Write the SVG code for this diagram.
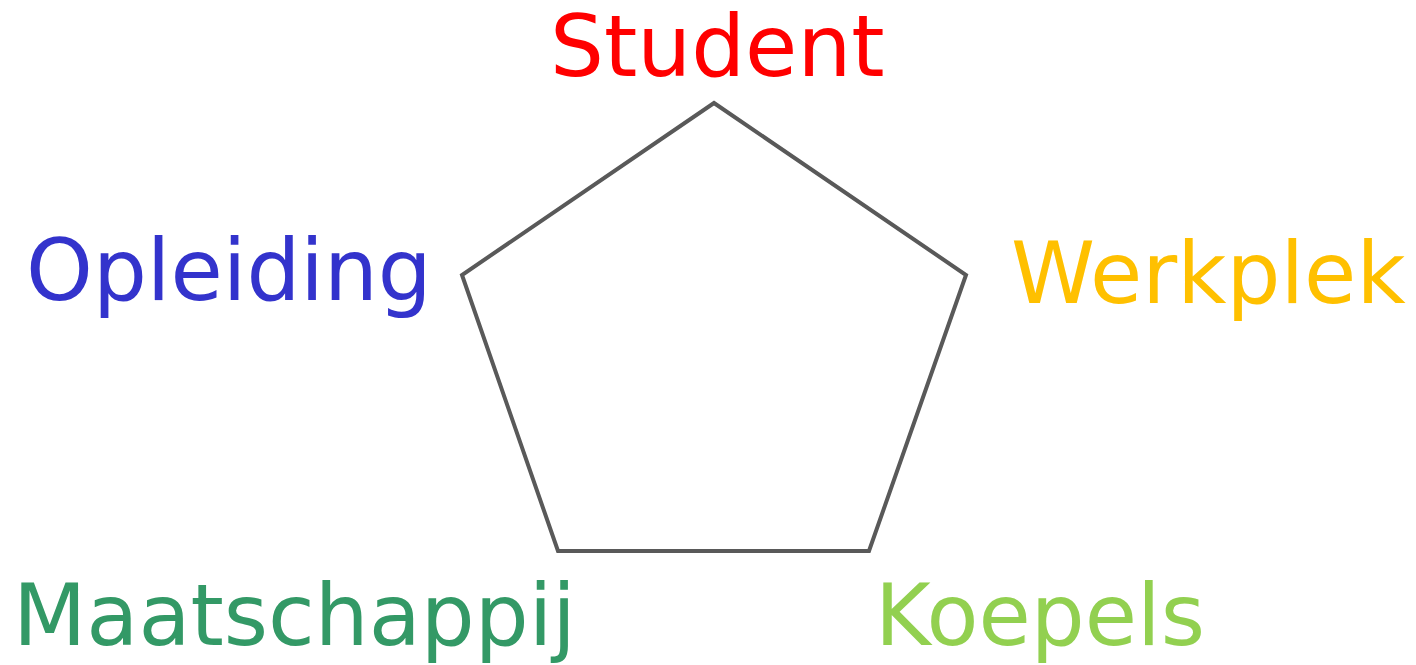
<svg xmlns="http://www.w3.org/2000/svg" width="1416" height="665" viewBox="0 0 1416 665">
<style>
text{font-family:"DejaVu Sans",Verdana,sans-serif;font-size:85px}
.shape{fill:none;stroke:#595959;stroke-width:4;stroke-linejoin:miter}
</style>
<rect width="1416" height="665" fill="#ffffff"/>
<g id="pentagon">
<polygon class="shape" points="714,103 966,275 869,551 558,551 462,275"/>
</g>
<g id="connectors"></g>
<g id="student"><text x="550" y="76" fill="#FF0000">Student</text></g>
<g id="opleiding"><text x="26" y="300" fill="#3333CC">Opleiding</text></g>
<g id="werkplek"><text x="1011" y="303" fill="#FFC000">Werkplek</text></g>
<g id="maatschappij"><text x="13" y="645" fill="#339966">Maatschappij</text></g>
<g id="koepels"><text x="875" y="645" fill="#92D050">Koepels</text></g>
</svg>
